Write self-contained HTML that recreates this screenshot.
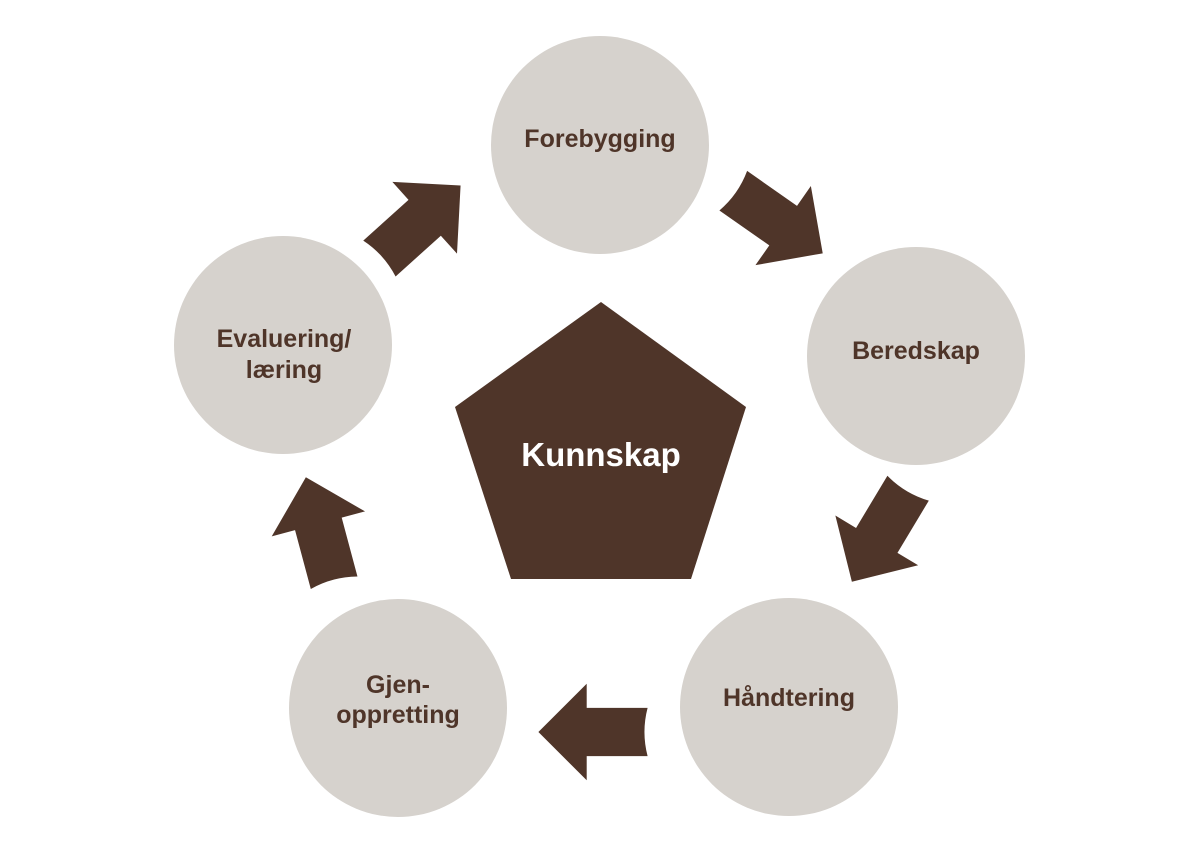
<!DOCTYPE html>
<html><head><meta charset="utf-8"><style>
html,body{margin:0;padding:0;background:#fff;}
svg{display:block;}
text{font-family:"Liberation Sans",sans-serif;font-weight:bold;}
</style></head><body>
<svg width="1200" height="854" viewBox="0 0 1200 854" xmlns="http://www.w3.org/2000/svg">
<defs>
<path id="arr" d="M52,0 L6,-46 L6,-23 L-52,-23 Q-46,0 -52,23 L6,23 L6,46 Z" fill="#4f3529"/>
</defs>
<g fill="#d6d2cd">
<circle cx="600" cy="145" r="109"/>
<circle cx="916" cy="356" r="109"/>
<circle cx="789" cy="707" r="109"/>
<circle cx="398" cy="708" r="109"/>
<circle cx="283" cy="345" r="109"/>
</g>
<polygon points="601,302 746,407 691,579 511,579 455,407" fill="#4f3529"/>
<use href="#arr" transform="translate(593,732) rotate(180) scale(1.05)"/>
<use href="#arr" transform="translate(420,222) rotate(-42) scale(1.05)"/>
<use href="#arr" transform="translate(778,222) rotate(35) scale(1.05)"/>
<use href="#arr" transform="translate(880,535) rotate(121) scale(1.05)"/>
<use href="#arr" transform="translate(320,530) rotate(-105) scale(1.05)"/>
<g fill="#4f3529" font-size="25" text-anchor="middle">
<text x="600" y="147">Forebygging</text>
<text x="916" y="359">Beredskap</text>
<text x="789" y="706">Håndtering</text>
<text x="398" y="693">Gjen-</text>
<text x="398" y="723">oppretting</text>
<text x="284" y="347">Evaluering/</text>
<text x="284" y="378">læring</text>
</g>
<text x="601" y="466" fill="#fff" font-size="33" text-anchor="middle">Kunnskap</text>
</svg>
</body></html>
